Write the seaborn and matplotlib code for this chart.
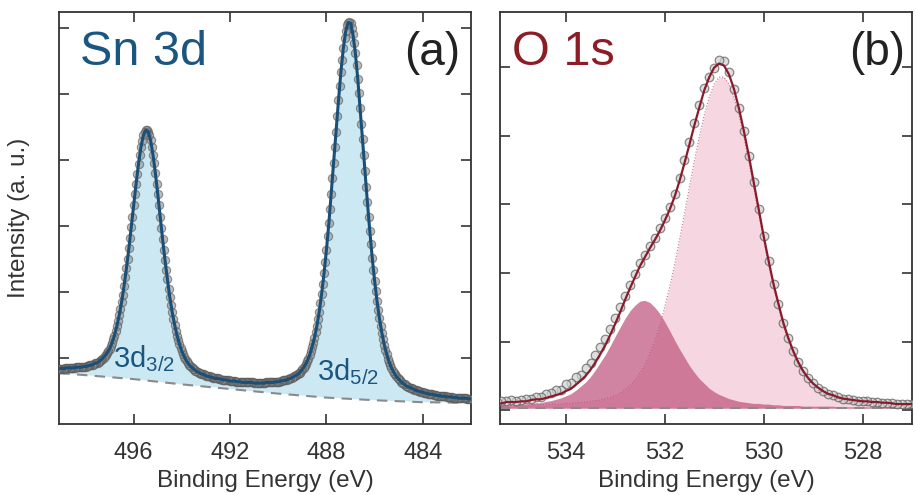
import numpy as np
import matplotlib
matplotlib.use("Agg")
import matplotlib.pyplot as plt
import seaborn as sns

# ---- (a) Sn 3d : intensity in a.u. (x100), energies in eV ----
sn_start, sn_step = 481.8, 0.05
sn_counts = [
    37, 38, 38, 38, 38, 38, 38, 38, 39, 39, 39, 39, 39, 39, 39, 40, 40, 40, 40, 40,
    41, 41, 41, 41, 41, 42, 42, 42, 42, 43, 43, 43, 43, 44, 44, 44, 45, 45, 45, 46,
    46, 47, 47, 47, 48, 48, 49, 50, 50, 51, 51, 52, 53, 54, 55, 55, 56, 57, 58, 60,
    61, 62, 64, 66, 68, 70, 72, 75, 78, 81, 85, 89, 94, 99, 106, 112, 120, 128, 138, 148,
    160, 172, 186, 201, 217, 234, 252, 272, 292, 314, 336, 359, 383, 407, 431, 455, 479, 502, 523, 544,
    562, 577, 590, 600, 607, 609, 608, 604, 595, 584, 569, 552, 533, 512, 490, 467, 443, 419, 395, 372,
    349, 326, 304, 284, 264, 246, 228, 212, 197, 183, 170, 159, 148, 139, 130, 122, 116, 110, 104, 99,
    95, 91, 88, 85, 83, 80, 78, 77, 75, 74, 73, 72, 71, 70, 69, 68, 68, 67, 66, 66,
    66, 65, 65, 64, 64, 64, 64, 63, 63, 63, 63, 63, 63, 63, 63, 62, 62, 62, 62, 62,
    62, 62, 62, 62, 62, 63, 63, 63, 63, 63, 63, 63, 63, 63, 63, 64, 64, 64, 64, 64,
    65, 65, 65, 65, 65, 66, 66, 66, 67, 67, 67, 67, 68, 68, 69, 69, 69, 70, 70, 71,
    71, 72, 72, 73, 73, 74, 75, 75, 76, 77, 78, 79, 80, 81, 83, 84, 86, 88, 90, 92,
    95, 98, 102, 106, 110, 115, 121, 127, 134, 141, 150, 159, 169, 180, 192, 205, 219, 233, 248, 264,
    280, 297, 314, 331, 348, 364, 380, 395, 408, 420, 430, 438, 443, 446, 445, 443, 437, 429, 419, 407,
    394, 379, 364, 348, 331, 314, 298, 281, 266, 250, 236, 222, 209, 196, 185, 174, 165, 156, 148, 141,
    134, 128, 123, 118, 114, 111, 108, 105, 103, 100, 99, 97, 96, 94, 93, 92, 92, 91, 90, 90,
    89, 89, 88, 88, 87, 87, 87, 87, 86, 86, 86, 86, 86, 85, 85, 85, 85, 85, 85, 85,
    85, 85, 84, 84, 84, 84, 84, 84, 84, 84, 84, 84, 84,
]
sn_fit_start, sn_fit_step = 481.8, 0.1
sn_fit = [
    37, 38, 38, 38, 39, 39, 39, 39, 40, 40, 41, 41, 41, 42, 42, 43, 43, 44, 45, 45,
    46, 47, 48, 49, 50, 51, 53, 55, 56, 58, 61, 64, 68, 72, 78, 85, 94, 106, 120, 138,
    160, 186, 217, 252, 292, 336, 383, 431, 479, 523, 562, 590, 607, 608, 595, 569, 533, 490, 443, 395,
    349, 304, 264, 228, 197, 170, 148, 130, 116, 104, 95, 88, 83, 78, 75, 73, 71, 69, 68, 66,
    66, 65, 64, 64, 63, 63, 63, 63, 62, 62, 62, 62, 62, 63, 63, 63, 63, 63, 64, 64,
    65, 65, 65, 66, 67, 67, 68, 69, 69, 70, 71, 72, 73, 75, 76, 78, 80, 83, 86, 90,
    95, 102, 110, 121, 134, 150, 169, 192, 219, 248, 280, 314, 348, 380, 408, 430, 443, 445, 437, 419,
    394, 364, 331, 298, 266, 236, 209, 185, 165, 148, 134, 123, 114, 108, 103, 99, 96, 93, 92, 90,
    89, 88, 87, 87, 86, 86, 86, 85, 85, 85, 85, 84, 84, 84, 84, 84, 84,
]
sn_bg_energy = [481.8, 484, 486, 488, 490, 492, 494, 496, 498, 499.4]
sn_bg = [32, 33, 36, 40, 46, 53, 60, 68, 74, 78]

# ---- (b) O 1s ----
o_start, o_step = 526.8, 0.1
o_counts = [
    8, 8, 9, 9, 9, 9, 10, 11, 11, 12, 12, 13, 13, 14, 15, 16, 17, 19, 22, 24,
    28, 33, 39, 47, 57, 70, 86, 105, 127, 155, 184, 218, 254, 293, 332, 371, 407, 440, 468, 493,
    508, 510, 499, 485, 470, 445, 419, 391, 364, 338, 315, 296, 280, 265, 251, 239, 226, 214, 198, 183,
    166, 150, 134, 119, 104, 92, 80, 69, 62, 52, 48, 40, 38, 30, 29, 25, 24, 20, 19, 17,
    16, 15, 14, 15, 13, 13, 12, 13,
]
o_main = [
    4, 4, 5, 5, 5, 5, 6, 6, 6, 7, 7, 8, 8, 9, 10, 11, 12, 14, 16, 18,
    22, 27, 33, 41, 51, 63, 79, 98, 120, 147, 176, 209, 245, 283, 322, 360, 395, 427, 453, 472,
    482, 482, 472, 453, 427, 395, 360, 322, 283, 245, 209, 176, 147, 120, 98, 79, 63, 51, 41, 33,
    27, 22, 18, 16, 14, 12, 11, 10, 9, 8, 8, 7, 7, 6, 6, 6, 5, 5, 5, 5,
    4, 4, 4, 4, 4, 3, 3, 3,
]
o_second = [
    1, 1, 1, 1, 1, 1, 1, 2, 2, 2, 2, 2, 2, 2, 2, 2, 2, 2, 3, 3,
    3, 3, 3, 3, 3, 4, 4, 4, 4, 5, 5, 6, 6, 7, 7, 8, 9, 10, 12, 14,
    17, 20, 24, 29, 36, 43, 52, 62, 74, 86, 99, 113, 126, 138, 147, 154, 157, 156, 150, 142,
    131, 118, 105, 91, 78, 67, 56, 46, 38, 32, 26, 21, 18, 15, 13, 11, 10, 8, 8, 7,
    6, 6, 5, 5, 5, 4, 4, 4,
]
o_bg = 3

sns.set_style("ticks")
plt.rcParams['font.family'] = ['Liberation Sans', 'DejaVu Sans']
plt.rcParams['mathtext.default'] = 'regular'

sn_energy = np.round(sn_start + sn_step * np.arange(len(sn_counts)), 2)
sn_fit_energy = np.round(sn_fit_start + sn_fit_step * np.arange(len(sn_fit)), 2)
o_energy = np.round(o_start + o_step * np.arange(len(o_counts)), 2)
o_main_top = o_bg + np.array(o_main)
o_second_top = o_bg + np.array(o_second)
o_fit = o_bg + np.array(o_main) + np.array(o_second)

fig = plt.figure(figsize=(9.16, 4.95), dpi=100)
ax1 = fig.add_axes([59/916, 71/495, 412/916, 412/495])
ax2 = fig.add_axes([500/916, 71/495, 412/916, 412/495])

# (a) Sn 3d
ax1.fill(np.r_[sn_fit_energy, sn_bg_energy[::-1]], np.r_[sn_fit, sn_bg[::-1]],
         color='#cce9f3', lw=0, zorder=1)
sns.lineplot(x=sn_bg_energy, y=sn_bg, ax=ax1, color='#8a8a8a', lw=1.5, zorder=2)
ax1.lines[-1].set_dashes((5, 3.5))
sns.scatterplot(x=sn_energy, y=sn_counts, ax=ax1, s=36, color='#909090',
                edgecolor='#555555', linewidth=0.8, alpha=0.6, zorder=3)
sns.lineplot(x=sn_fit_energy, y=sn_fit, ax=ax1, color='#1a5078', lw=2.2, zorder=4)
ax1.set_xlim(499.1, 482)
ax1.set_ylim(0, 624)
ax1.set_xticks([496, 492, 488, 484])
ax1.set_yticks([100, 200, 300, 400, 500, 600])
ax1.set_yticklabels([])
ax1.set_ylabel('Intensity (a. u.)', fontsize=17.5, color='#333333', labelpad=8)
ax1.text(0.051, 0.871, 'Sn 3d', transform=ax1.transAxes, fontsize=35,
         color='#1b5680', va='baseline', ha='left')
ax1.text(0.973, 0.871, '(a)', transform=ax1.transAxes, fontsize=33,
         color='#222222', va='baseline', ha='right')
ax1.text(496.875, 86, r'3d$_{3/2}$', fontsize=21, color='#1b5680', va='baseline')
ax1.text(488.375, 67, r'3d$_{5/2}$', fontsize=21, color='#1b5680', va='baseline')

# (b) O 1s
ax2.fill_between(o_energy, o_bg, o_main_top, color='#f6d6e0', lw=0, zorder=1)
ax2.plot(o_energy, o_main_top, color='#c07090', lw=0.8, ls=':', zorder=2)
ax2.fill_between(o_energy, o_bg, o_second_top, color='#c0557d', alpha=0.72, lw=0, zorder=2)
ax2.axhline(o_bg, color='#8a8a8a', lw=1.5, dashes=(5, 3.5), zorder=2)
sns.scatterplot(x=o_energy, y=o_counts, ax=ax2, s=38, color='#d0d0d0',
                edgecolor='#5a5a5a', linewidth=0.9, alpha=0.7, zorder=3)
sns.lineplot(x=o_energy, y=o_fit, ax=ax2, color='#8b1a2b', lw=1.6, zorder=4)
ax2.set_xlim(535.33, 527)
ax2.set_ylim(-20, 580)
ax2.set_xticks([534, 532, 530, 528])
ax2.set_yticks([0, 100, 200, 300, 400, 500])
ax2.set_yticklabels([])
ax2.set_ylabel('')
ax2.text(0.029, 0.871, 'O 1s', transform=ax2.transAxes, fontsize=35,
         color='#8c1c26', va='baseline', ha='left')
ax2.text(0.983, 0.871, '(b)', transform=ax2.transAxes, fontsize=33,
         color='#222222', va='baseline', ha='right')

for ax in (ax1, ax2):
    ax.set_xlabel('Binding Energy (eV)', fontsize=17.5, color='#333333', labelpad=4)
    ax.tick_params(direction='in', length=7, width=1.2, top=True, right=True,
                   labelsize=17, labelcolor='#333333', color='#333333', pad=13)
    for sp in ax.spines.values():
        sp.set_linewidth(1.3)
        sp.set_color('#333333')

fig.savefig('out.png', dpi=100)
